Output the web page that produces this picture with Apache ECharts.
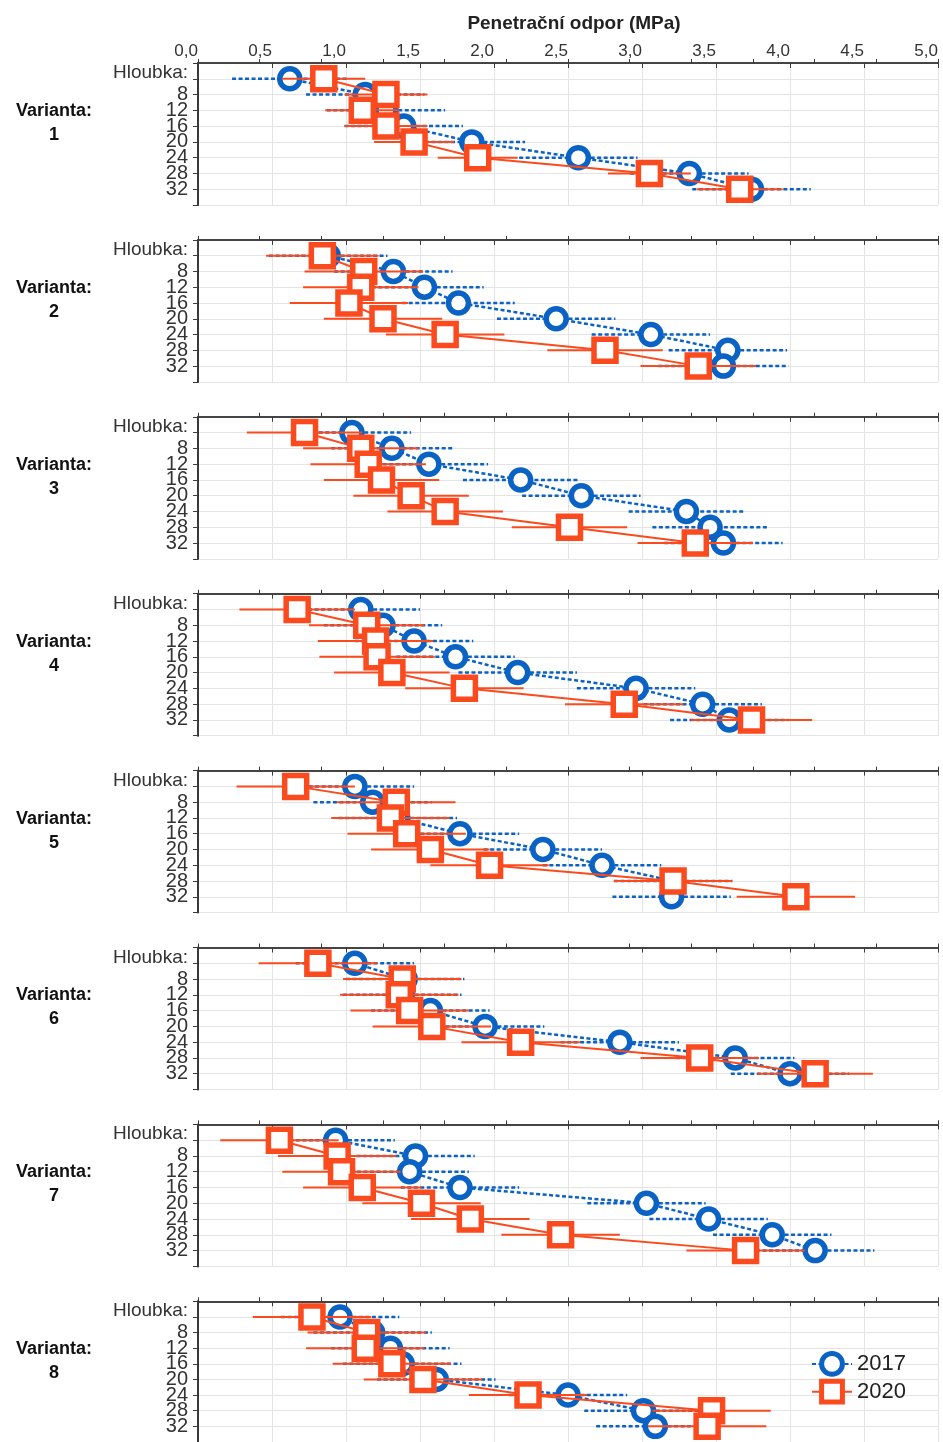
<!DOCTYPE html>
<html>
<head>
<meta charset="utf-8">
<script src="https://cdn.jsdelivr.net/npm/echarts@6/dist/echarts.min.js"></script>
<style>
  html, body { margin: 0; padding: 0; background: #ffffff; }
  #chart { width: 943px; height: 1442px; }
</style>
</head>
<body>
<div id="chart"></div>
<script>
// Depth steps (cm) shown on every panel; the first one carries the axis caption.
const depths = [4, 8, 12, 16, 20, 24, 28, 32];
const depthLabels = ['Hloubka:', '8', '12', '16', '20', '24', '28', '32'];
const variants = ['1', '2', '3', '4', '5', '6', '7', '8'];
const years = ['2017', '2020'];
const xTitle = 'Penetrační odpor (MPa)';

// Mean penetration resistance (MPa), one row per variant, one value per depth.
const mean2017 = [
  [0.62, 1.13, 1.27, 1.39, 1.85, 2.57, 3.32, 3.74],
  [0.88, 1.32, 1.53, 1.76, 2.42, 3.06, 3.58, 3.55],
  [1.04, 1.31, 1.56, 2.18, 2.59, 3.30, 3.46, 3.55],
  [1.10, 1.25, 1.46, 1.74, 2.16, 2.96, 3.41, 3.59],
  [1.06, 1.18, 1.35, 1.77, 2.33, 2.73, 3.21, 3.20],
  [1.06, 1.40, 1.38, 1.57, 1.94, 2.85, 3.63, 4.00],
  [0.93, 1.47, 1.43, 1.77, 3.03, 3.45, 3.88, 4.17],
  [0.96, 1.18, 1.30, 1.38, 1.61, 2.50, 3.01, 3.09]
];
const mean2020 = [
  [0.85, 1.27, 1.11, 1.27, 1.46, 1.89, 3.05, 3.66],
  [0.84, 1.12, 1.10, 1.02, 1.25, 1.67, 2.75, 3.38],
  [0.72, 1.10, 1.15, 1.24, 1.44, 1.67, 2.51, 3.36],
  [0.67, 1.14, 1.20, 1.21, 1.31, 1.80, 2.88, 3.74],
  [0.66, 1.34, 1.30, 1.41, 1.57, 1.97, 3.21, 4.04],
  [0.81, 1.38, 1.36, 1.43, 1.58, 2.18, 3.39, 4.17],
  [0.55, 0.94, 0.97, 1.11, 1.51, 1.84, 2.45, 3.70],
  [0.77, 1.14, 1.13, 1.31, 1.52, 2.23, 3.47, 3.44]
];
// Half-width of the interval drawn around each mean (MPa).
const half2017 = [
  [0.39, 0.40, 0.40, 0.40, 0.36, 0.40, 0.40, 0.40],
  [0.40, 0.40, 0.40, 0.38, 0.40, 0.40, 0.40, 0.44],
  [0.40, 0.41, 0.40, 0.39, 0.40, 0.39, 0.39, 0.40],
  [0.40, 0.40, 0.40, 0.40, 0.40, 0.40, 0.40, 0.40],
  [0.40, 0.40, 0.40, 0.40, 0.40, 0.40, 0.40, 0.40],
  [0.40, 0.40, 0.40, 0.40, 0.40, 0.40, 0.40, 0.40],
  [0.40, 0.40, 0.40, 0.40, 0.40, 0.40, 0.40, 0.40],
  [0.40, 0.40, 0.40, 0.40, 0.40, 0.40, 0.40, 0.40]
];
const half2020 = [
  [0.28, 0.28, 0.25, 0.28, 0.27, 0.27, 0.28, 0.29],
  [0.38, 0.40, 0.39, 0.40, 0.40, 0.40, 0.39, 0.39],
  [0.39, 0.39, 0.39, 0.39, 0.39, 0.39, 0.39, 0.39],
  [0.39, 0.39, 0.39, 0.39, 0.39, 0.40, 0.40, 0.41],
  [0.40, 0.40, 0.40, 0.40, 0.40, 0.40, 0.40, 0.40],
  [0.40, 0.40, 0.40, 0.40, 0.40, 0.40, 0.40, 0.39],
  [0.40, 0.40, 0.40, 0.40, 0.40, 0.40, 0.40, 0.40],
  [0.40, 0.40, 0.40, 0.40, 0.40, 0.40, 0.40, 0.40]
];

const FONT = '"Liberation Sans", Arial, sans-serif';
const BLUE = '#0a62c4';
const RED = '#fb4a1e';
const AXIS = '#3a3a3a';
const GRIDLINE = '#e4e4e4';
const PANEL_TOP = 63, PANEL_STEP = 176.9, PANEL_H = 142;

const chart = echarts.init(document.getElementById('chart'));

const grids = [], xAxes = [], yAxes = [], series = [], graphics = [];

function intervalRenderer(color, width, dash) {
  return function (params, api) {
    const a = api.coord([api.value(0), api.value(2)]);
    const b = api.coord([api.value(1), api.value(2)]);
    return {
      type: 'line',
      shape: { x1: a[0], y1: a[1], x2: b[0], y2: b[1] },
      style: { stroke: color, lineWidth: width, lineDash: dash }
    };
  };
}

variants.forEach((v, i) => {
  const top = PANEL_TOP + PANEL_STEP * i;
  grids.push({ left: 198, right: 5, top: top, height: PANEL_H });

  // top scale in MPa (labelled on the first panel only)
  xAxes.push({
    type: 'value', gridIndex: i, position: 'top', min: 0, max: 5, interval: 0.5,
    axisLine: { show: true, lineStyle: { color: AXIS, width: 1.5 } },
    axisTick: { show: true, inside: true, length: 5, lineStyle: { color: AXIS } },
    axisLabel: {
      show: i === 0, align: 'right', margin: 3, fontSize: 17, color: '#333', fontFamily: FONT,
      formatter: val => val.toFixed(1).replace('.', ',')
    },
    splitLine: { show: true, lineStyle: { color: GRIDLINE, width: 1 } }
  });
  // bottom frame edge with its own tick spacing
  xAxes.push({
    type: 'value', gridIndex: i, position: 'bottom', min: 0, max: 12, interval: 1,
    axisLine: { show: true, lineStyle: { color: AXIS, width: 1.5 } },
    axisTick: { show: true, inside: true, length: 4, lineStyle: { color: AXIS } },
    axisLabel: { show: false },
    splitLine: { show: false }
  });
  // depth axis
  yAxes.push({
    type: 'value', gridIndex: i, inverse: true, min: 0, max: 36, interval: 4,
    axisLine: { show: true, lineStyle: { color: AXIS, width: 2 } },
    axisTick: { show: false },
    axisLabel: {
      margin: 10, fontSize: 20, color: '#333', fontFamily: FONT,
      formatter: val => {
        const k = depths.indexOf(val);
        if (k < 0) return '';
        return k === 0 ? '{cap|' + depthLabels[k] + '}' : depthLabels[k];
      },
      rich: { cap: { fontSize: 19, color: '#333', fontFamily: FONT, padding: [0, 0, 12, 0] } }
    },
    splitLine: { show: true, lineStyle: { color: GRIDLINE, width: 1 } }
  });
  yAxes.push({
    type: 'value', gridIndex: i, position: 'right', inverse: true, min: 0, max: 36, interval: 4,
    axisLine: { show: true, lineStyle: { color: AXIS, width: 1.5 } },
    axisTick: { show: true, inside: true, length: 5, lineStyle: { color: AXIS } },
    axisLabel: { show: false },
    splitLine: { show: false }
  });

  const xi = i * 2, yi = i * 2;
  const ci17 = depths.map((d, k) => [mean2017[i][k] - half2017[i][k], mean2017[i][k] + half2017[i][k], d]);
  const ci20 = depths.map((d, k) => [mean2020[i][k] - half2020[i][k], mean2020[i][k] + half2020[i][k], d]);

  series.push({
    name: 'interval 2017', type: 'custom', xAxisIndex: xi, yAxisIndex: yi, z: 2,
    renderItem: intervalRenderer(BLUE, 2.5, [4, 2.5]),
    encode: { x: [0, 1], y: 2 }, data: ci17, silent: true
  });
  series.push({
    name: years[0], type: 'line', xAxisIndex: xi, yAxisIndex: yi, z: 3,
    data: depths.map((d, k) => [mean2017[i][k], d]),
    symbol: 'circle', symbolSize: 20, showAllSymbol: true,
    lineStyle: { color: BLUE, width: 2.5, type: [4, 2.5] },
    itemStyle: { color: '#ffffff', borderColor: BLUE, borderWidth: 5.5 },
    emphasis: { disabled: true }, animation: false
  });
  series.push({
    name: 'interval 2020', type: 'custom', xAxisIndex: xi, yAxisIndex: yi, z: 4,
    renderItem: intervalRenderer(RED, 2, null),
    encode: { x: [0, 1], y: 2 }, data: ci20, silent: true
  });
  series.push({
    name: years[1], type: 'line', xAxisIndex: xi, yAxisIndex: yi, z: 5,
    data: depths.map((d, k) => [mean2020[i][k], d]),
    symbol: 'rect', symbolSize: 22, showAllSymbol: true,
    lineStyle: { color: RED, width: 2 },
    itemStyle: { color: '#ffffff', borderColor: RED, borderWidth: 5.5 },
    emphasis: { disabled: true }, animation: false
  });

  graphics.push({
    type: 'text', x: 54, y: top + 60,
    style: {
      text: 'Varianta:\n' + v, font: 'bold 18px ' + FONT, fill: '#111',
      align: 'center', verticalAlign: 'middle', lineHeight: 24
    }
  });
});

chart.setOption({
  backgroundColor: '#ffffff',
  animation: false,
  title: {
    text: xTitle, left: 569, top: 9, textAlign: 'center',
    textStyle: { fontSize: 19, fontWeight: 'bold', color: '#222', fontFamily: FONT }
  },
  legend: {
    data: years, orient: 'vertical', left: 806, top: 1346,
    itemWidth: 40, itemHeight: 26, itemGap: 2,
    itemStyle: { borderWidth: 5 },
    textStyle: { fontSize: 22, color: '#222', fontFamily: FONT }
  },
  grid: grids,
  xAxis: xAxes,
  yAxis: yAxes,
  series: series,
  graphic: graphics
});
</script>
</body>
</html>
